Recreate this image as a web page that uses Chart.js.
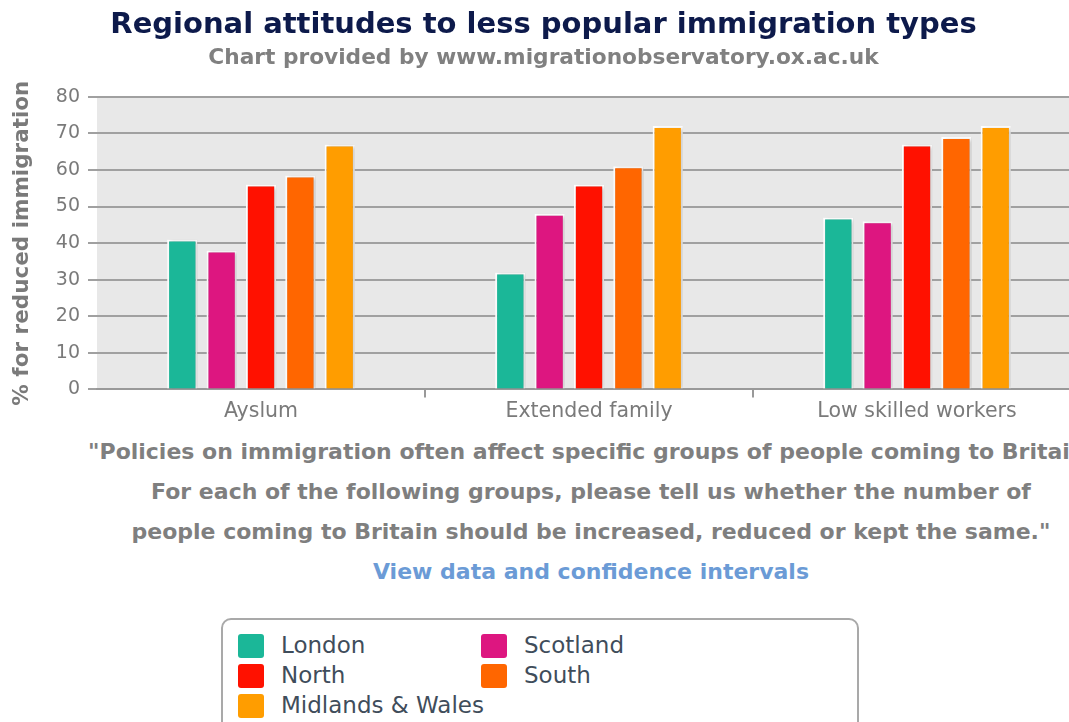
<!DOCTYPE html>
<html>
<head>
<meta charset="utf-8">
<script src="https://cdn.jsdelivr.net/npm/chart.js@4/dist/chart.umd.min.js"></script>
<style>
  body { margin: 0; width: 1069px; height: 722px; overflow: hidden; background: #fff; font-family: "DejaVu Sans", sans-serif; }
  #wrap { position: relative; width: 1082px; height: 426px; }
  #caption { position: absolute; left: 0; top: 432px; width: 1182px; text-align: center; white-space: nowrap;
             font-weight: bold; font-size: 22px; line-height: 40px; color: #7f7f7f; }
  #caption a { color: #6b9bd6; text-decoration: none; }
  #legend { position: absolute; left: 221px; top: 618px; width: 638px; height: 120px; border: 2px solid #a9a9a9;
            border-radius: 10px; box-sizing: border-box; }
  .item { position: absolute; font-size: 23px; color: #3f4d5b; line-height: 30px; white-space: nowrap; }
  .sw { display: inline-block; width: 26px; height: 24px; border-radius: 3px; vertical-align: -5px; margin-right: 17px; }
</style>
</head>
<body>
<div id="wrap"><canvas id="chart" width="1082" height="426"></canvas></div>
<div id="caption">
"Policies on immigration often affect specific groups of people coming to Britain.<br>
For each of the following groups, please tell us whether the number of<br>
people coming to Britain should be increased, reduced or kept the same."<br>
<a href="#">View data and confidence intervals</a>
</div>
<div id="legend"></div>
<script>
// data
var categories = ["Ayslum", "Extended family", "Low skilled workers"];
var regions = ["London", "Scotland", "North", "South", "Midlands & Wales"];
var london = [41, 32, 47];
var scotland = [38, 48, 46];
var north = [56, 56, 67];
var south = [58.5, 61, 69];
var midlands = [67, 72, 72];
var yTicks = [0, 10, 20, 30, 40, 50, 60, 70, 80];

var colors = ["#1bb798", "#dd1680", "#ff1100", "#ff6600", "#ff9d00"];
var values = [london, scotland, north, south, midlands];

var datasets = [];
for (var i = 0; i < regions.length; i++) {
    datasets.push({
        label: regions[i],
        data: values[i],
        backgroundColor: colors[i],
        borderColor: "#ffffff",
        borderWidth: 2,
        categoryPercentage: 0.6,
        barPercentage: 0.77
    });
}

// grey plot background + bar shadows
var plotBg = {
    id: "plotBg",
    beforeDraw: function(chart) {
        var a = chart.chartArea, ctx = chart.ctx;
        ctx.save();
        ctx.fillStyle = "#e8e8e8";
        ctx.fillRect(a.left, a.top, a.right - a.left, a.bottom - a.top);
        ctx.restore();
    },
    beforeDatasetsDraw: function(chart) {
        var ctx = chart.ctx;
        ctx.save();
        ctx.shadowColor = "rgba(0,0,0,0.22)";
        ctx.shadowBlur = 4;
        ctx.shadowOffsetX = 2;
        ctx.shadowOffsetY = 1;
    },
    afterDatasetsDraw: function(chart) {
        chart.ctx.restore();
    }
};

var ctx = document.getElementById("chart").getContext("2d");
var myChart = new Chart(ctx, {
    type: "bar",
    data: { labels: categories, datasets: datasets },
    plugins: [plotBg],
    options: {
        responsive: false,
        animation: false,
        layout: { padding: { left: 6, right: 1, top: 0, bottom: 0 } },
        plugins: {
            legend: { display: false },
            tooltip: { enabled: false },
            title: {
                display: true,
                text: "Regional attitudes to less popular immigration types",
                color: "#0d1a4b",
                font: { family: "DejaVu Sans", size: 29, weight: "bold" },
                padding: { top: 8, bottom: 3 }
            },
            subtitle: {
                display: true,
                text: "Chart provided by www.migrationobservatory.ox.ac.uk",
                color: "#808080",
                font: { family: "DejaVu Sans", size: 21.7, weight: "bold" },
                padding: { top: 0, bottom: 25 }
            }
        },
        scales: {
            x: {
                grid: {
                    drawOnChartArea: false,
                    tickLength: 8,
                    lineWidth: 2,
                    color: function(c) { return c.index === 0 ? "rgba(0,0,0,0)" : "#999"; }
                },
                border: { color: "#999", width: 2 },
                ticks: { color: "#7a7a7a", padding: 2, font: { family: "DejaVu Sans", size: 20.5 } }
            },
            y: {
                min: 0,
                max: 80,
                afterFit: function(s) { s.width = 91; },
                afterBuildTicks: function(s) { s.ticks = yTicks.map(function(v) { return { value: v }; }); },
                grid: { color: "#a0a0a0", lineWidth: 2, tickLength: 9 },
                border: { display: false },
                ticks: { color: "#7a7a7a", padding: 8, font: { family: "DejaVu Sans", size: 19 } },
                title: {
                    display: true,
                    text: "% for reduced immigration",
                    color: "#7a7a7a",
                    font: { family: "DejaVu Sans", size: 21.5, weight: "bold" },
                    padding: { top: 4, bottom: 4 }
                }
            }
        }
    }
});

// legend box built from the same arrays
var legend = document.getElementById("legend");
for (var j = 0; j < regions.length; j++) {
    var item = document.createElement("div");
    item.className = "item";
    item.style.left = (j % 2 === 0 ? 15 : 258) + "px";
    item.style.top = (10 + Math.floor(j / 2) * 30) + "px";
    item.innerHTML = '<span class="sw" style="background:' + colors[j] + '"></span>' + regions[j].replace("&", "&amp;");
    legend.appendChild(item);
}
</script>
</body>
</html>
